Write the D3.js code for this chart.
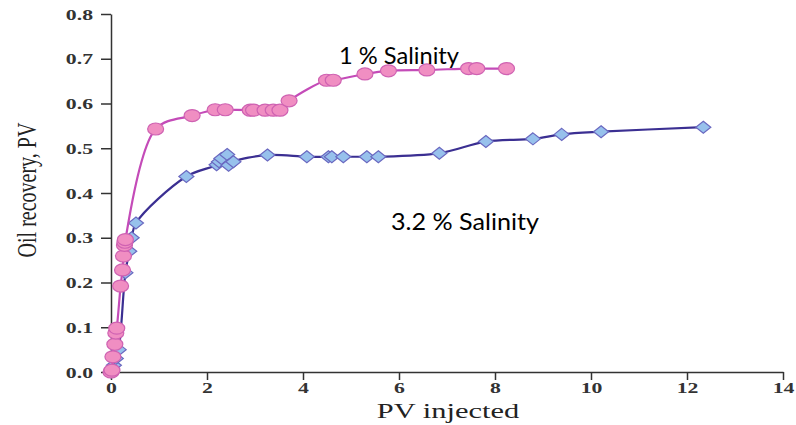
<!DOCTYPE html>
<html>
<head>
<meta charset="utf-8">
<script src="https://cdn.jsdelivr.net/npm/d3@7/dist/d3.min.js"></script>
<style>
  html, body { margin: 0; padding: 0; background: #fff; }
  svg { display: block; }
</style>
</head>
<body>
<svg id="chart" width="796" height="425"></svg>
<script>
// Oil recovery vs. pore volumes injected, two brine salinities
const lowSalinityPV   = [0, 0.02, 0.04, 0.08, 0.10, 0.12, 0.20, 0.24, 0.26, 0.28, 0.29, 0.30, 0.93, 1.69, 2.17, 2.38, 2.90, 2.97, 3.21, 3.38, 3.52, 3.71, 4.49, 4.63, 5.29, 5.78, 6.58, 7.45, 7.62, 8.24];
const lowSalinityRec  = [0, 0.004, 0.034, 0.062, 0.087, 0.098, 0.192, 0.228, 0.259, 0.283, 0.290, 0.296, 0.543, 0.573, 0.586, 0.586, 0.585, 0.585, 0.585, 0.585, 0.585, 0.606, 0.652, 0.652, 0.666, 0.673, 0.675, 0.678, 0.678, 0.678];

const highSalinityPV  = [0, 0.06, 0.10, 0.16, 0.30, 0.38, 0.43, 0.52, 1.57, 2.20, 2.25, 2.30, 2.42, 2.45, 2.55, 3.26, 4.08, 4.53, 4.60, 4.84, 5.33, 5.57, 6.84, 7.81, 8.79, 9.39, 10.21, 12.34];
const highSalinityRec = [0, 0.015, 0.03, 0.05, 0.222, 0.270, 0.300, 0.333, 0.437, 0.463, 0.470, 0.477, 0.486, 0.462, 0.470, 0.485, 0.481, 0.481, 0.481, 0.481, 0.481, 0.481, 0.489, 0.515, 0.521, 0.531, 0.537, 0.547];

const xTicks = [0, 2, 4, 6, 8, 10, 12, 14];
const yTicks = [0, 0.1, 0.2, 0.3, 0.4, 0.5, 0.6, 0.7, 0.8];

const seriesNames = ["1 % Salinity", "3.2 % Salinity"];
const xTitle = "PV injected";
const yTitle = "Oil recovery, PV";

const svg = d3.select("#chart");
const x = d3.scaleLinear().domain([0, 14]).range([111, 783]);
const y = d3.scaleLinear().domain([0, 0.8]).range([372, 14]);

const serif = "'Liberation Serif', 'Times New Roman', serif";
const stretch = 1.45; // wide glyphs on the axis text

// Axes
const yAxis = svg.append("g")
  .attr("transform", `translate(${x(0)},0)`)
  .call(d3.axisLeft(y).tickValues(yTicks).tickFormat(d3.format(".1f")).tickSize(10).tickSizeOuter(0));
const xAxis = svg.append("g")
  .attr("transform", `translate(0,${y(0)})`)
  .call(d3.axisBottom(x).tickValues(xTicks).tickFormat(d3.format("d")).tickSize(8).tickSizeOuter(0));

[yAxis, xAxis].forEach(g => {
  g.select(".domain").attr("stroke", "#333").attr("stroke-width", 1.5);
  g.selectAll(".tick line").attr("stroke", "#333").attr("stroke-width", 1.5);
  g.selectAll(".tick text")
    .attr("font-family", serif)
    .attr("font-weight", "bold")
    .attr("font-size", 15)
    .attr("fill", "#333");
});
yAxis.selectAll(".tick text")
  .attr("x", -18 / stretch)
  .attr("dy", "0.34em")
  .attr("transform", `scale(${stretch},1)`);
xAxis.selectAll(".tick text")
  .attr("y", 21)
  .attr("dy", 0)
  .attr("transform", `scale(${stretch},1)`);

// Axis titles
svg.append("text")
  .attr("transform", `translate(448,418) scale(${stretch},1)`)
  .attr("text-anchor", "middle")
  .attr("font-family", serif)
  .attr("font-size", 21)
  .attr("fill", "#222")
  .text(xTitle);

svg.append("text")
  .attr("transform", `translate(36,190) scale(1.4,1) rotate(-90)`)
  .attr("text-anchor", "middle")
  .attr("font-family", serif)
  .attr("font-size", 20)
  .attr("fill", "#222")
  .text(yTitle);

// Series
const line = d3.line()
  .x(d => x(d[0]))
  .y(d => y(d[1]))
  .curve(d3.curveCatmullRom.alpha(0.5));

const highPts = d3.zip(highSalinityPV, highSalinityRec);
const lowPts = d3.zip(lowSalinityPV, lowSalinityRec);

svg.append("path")
  .datum(highPts)
  .attr("fill", "none")
  .attr("stroke", "#3b2f92")
  .attr("stroke-width", 2.2)
  .attr("d", line);

svg.append("g").selectAll("path")
  .data(highPts)
  .join("path")
  .attr("transform", d => `translate(${x(d[0])},${y(d[1])})`)
  .attr("d", "M0,-6L7.5,0L0,6L-7.5,0Z")
  .attr("fill", "#97c1ec")
  .attr("stroke", "#6a68c0")
  .attr("stroke-width", 1.2);

svg.append("path")
  .datum(lowPts)
  .attr("fill", "none")
  .attr("stroke", "#c44bb8")
  .attr("stroke-width", 2.2)
  .attr("d", line);

svg.append("g").selectAll("ellipse")
  .data(lowPts)
  .join("ellipse")
  .attr("cx", d => x(d[0]))
  .attr("cy", d => y(d[1]))
  .attr("rx", 8)
  .attr("ry", 6)
  .attr("fill", "#f08ec2")
  .attr("stroke", "#cf62b2")
  .attr("stroke-width", 1.2);

// Series labels
const sans = "Lato, 'Noto Sans', sans-serif";
svg.append("text")
  .attr("x", 339).attr("y", 64)
  .attr("font-family", sans).attr("font-size", 23)
  .attr("textLength", 120).attr("lengthAdjust", "spacingAndGlyphs")
  .attr("fill", "#000")
  .text(seriesNames[0]);
svg.append("text")
  .attr("x", 391).attr("y", 230)
  .attr("font-family", sans).attr("font-size", 23)
  .attr("textLength", 148).attr("lengthAdjust", "spacingAndGlyphs")
  .attr("fill", "#000")
  .text(seriesNames[1]);
</script>
</body>
</html>
